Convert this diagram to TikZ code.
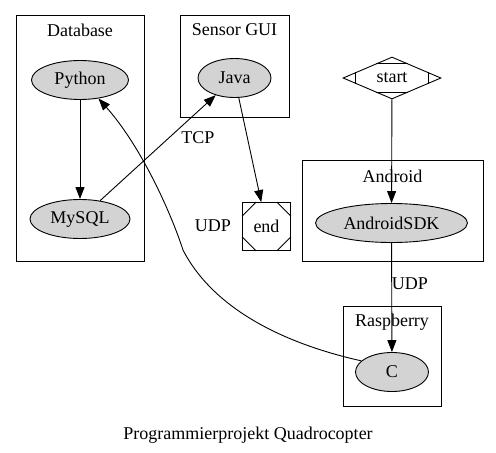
\documentclass[tikz,border=0pt]{standalone}
\usepackage{fontspec}
\setmainfont{Liberation Serif}
\usetikzlibrary{shapes.geometric,arrows.meta,calc}
\definecolor{nodegray}{RGB}{211,211,211}
\begin{document}
\begin{tikzpicture}[x=1pt,y=-1pt,line width=0.9pt,
	every node/.style={font=\fontsize{18}{21}\selectfont},
	proc/.style={ellipse,draw,fill=nodegray,minimum height=39pt,inner sep=0pt},
	cluster/.style={draw,line width=1pt},
	link/.style={-{Triangle[length=12pt,width=9pt]}}]
	
	\def\tick{0.29}
	
	\useasboundingbox (0,0) rectangle (496,453);
	
	% The clusters
	\foreach \xa/\ya/\xb/\yb in {16/15/144/261, 180/15/289/117, 302/160/483/261, 343/306/441/406}{
		\draw [cluster] (\xa,\ya) rectangle (\xb,\yb);
	}
	\node (dblabel) at (80,30) {Database};
	\node (guilabel) at (234.5,30) {Sensor GUI};
	\node (andlabel) at (392.5,176) {Android};
	\node (rpilabel) at (392,322) {Raspberry};
	
	% The nodes
	\node [proc,minimum width=97pt] (python) at (80,80) {Python};
	\node [proc,minimum width=100pt] (mysql) at (80,219) {MySQL};
	\node [proc,minimum width=73pt] (java) at (234.5,78) {Java};
	\node [proc,minimum width=152pt] (sdk) at (391.5,223) {AndroidSDK};
	\node [proc,minimum width=73pt] (c) at (392,372) {C};
	\node [diamond,draw,minimum width=98pt,minimum height=42pt,inner sep=0pt] (start) at (392,78) {start};
	\node [rectangle,draw,minimum size=48pt,inner sep=0pt] (end) at (266.5,226.5) {end};
	
	% Marks of the start and end shapes
	\draw ($(start.north)!0.33!(start.west)$) -- ($(start.north)!0.33!(start.east)$);
	\draw ($(start.south)!0.33!(start.west)$) -- ($(start.south)!0.33!(start.east)$);
	\draw ($(start.west)!0.27!(start.north)$) -- ($(start.west)!0.27!(start.south)$);
	\draw ($(start.east)!0.27!(start.north)$) -- ($(start.east)!0.27!(start.south)$);
	\foreach \corner/\ha/\hb in {north west/north east/south west, north east/north west/south east,
		south west/south east/north west, south east/south west/north east}{
		\draw ($(end.\corner)!\tick!(end.\ha)$) -- ($(end.\corner)!\tick!(end.\hb)$);
	}
	
	% The links
	\draw [link] (python) -- (mysql);
	\draw [link] (mysql) -- (java);
	\node (tcp) at (198,138) {TCP};
	\draw [link] (java) -- (end);
	\draw [link] (start) -- (sdk);
	\draw [link] (sdk) -- (c);
	\node (udpa) at (410,284) {UDP};
	\draw [link] (c.160) .. controls (290,345) and (215,312) .. (183,250)
	      .. controls (170,210) and (140,145) .. (python.-45);
	\node (udpb) at (213,226) {UDP};
	
	% The title
	\node (title) at (248,435) {Programmierprojekt Quadrocopter};
	
\end{tikzpicture}
\end{document}
